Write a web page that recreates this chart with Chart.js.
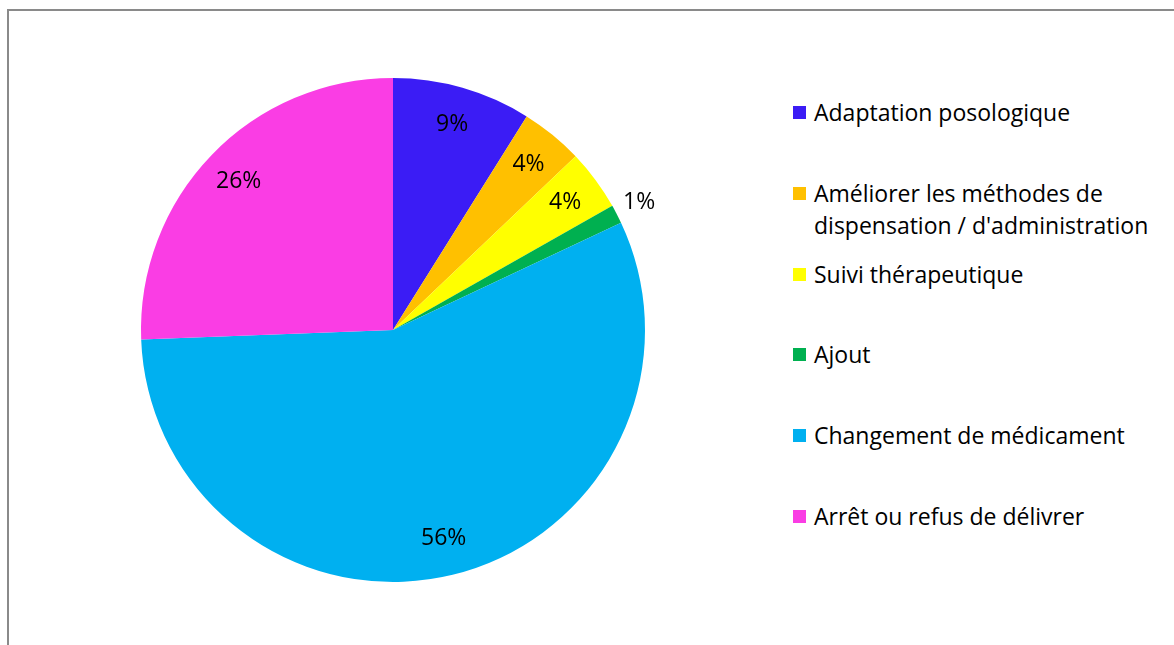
<!DOCTYPE html>
<html>
<head>
<meta charset="utf-8">
<script src="https://cdn.jsdelivr.net/npm/chart.js@4"></script>
<style>
  body { margin: 0; width: 1174px; height: 645px; overflow: hidden; background: #fff; font-family: "Open Sans", sans-serif; }
  #frame { position: absolute; left: 7px; top: 9px; width: 1200px; height: 700px; border-top: 2px solid #8a8a8a; border-left: 2px solid #8a8a8a; }
  #wrap { position: absolute; left: 0; top: 0; width: 786px; height: 645px; }
  #legend { position: absolute; left: 0; top: 0; }
  .item { position: absolute; left: 793px; white-space: nowrap; font-size: 23px; line-height: 32px; color: #000; }
  .item span.box { position: absolute; left: 0; top: 10px; width: 13px; height: 13px; }
  .item div.txt { margin-left: 21px; }
</style>
</head>
<body>
<div id="frame"></div>
<div id="wrap"><canvas id="pie"></canvas></div>
<div id="legend"></div>
<script>
const categories = [
  "Adaptation posologique",
  ["Améliorer les méthodes de", "dispensation / d'administration"],
  "Suivi thérapeutique",
  "Ajout",
  "Changement de médicament",
  "Arrêt ou refus de délivrer"
];
const percents = [8.9, 4.0, 3.9, 1.2, 56.4, 25.6];
const percentLabels = ["9%", "4%", "4%", "1%", "56%", "26%"];
const colors = ["#3b1cf5", "#ffc000", "#ffff00", "#00b050", "#00b0f0", "#fa3de4"];

// labels on the slices, small ones outside
const sliceLabels = {
  id: "sliceLabels",
  afterDatasetsDraw(chart) {
    const ctx = chart.ctx;
    const meta = chart.getDatasetMeta(0);
    ctx.save();
    ctx.font = "23px 'Open Sans', sans-serif";
    ctx.fillStyle = "#000";
    ctx.textAlign = "center";
    ctx.textBaseline = "middle";
    meta.data.forEach((arc, i) => {
      const p = arc.getProps(["x", "y", "startAngle", "endAngle", "outerRadius"], true);
      const mid = (p.startAngle + p.endAngle) / 2;
      const r = percents[i] < 2 ? p.outerRadius * 1.1 : p.outerRadius * 0.85;
      ctx.fillText(percentLabels[i], p.x + Math.cos(mid) * r, p.y + Math.sin(mid) * r);
    });
    ctx.restore();
  }
};

new Chart(document.querySelector("#pie"), {
  type: "pie",
  data: {
    labels: categories,
    datasets: [{
      data: percents,
      backgroundColor: colors,
      borderWidth: 0
    }]
  },
  options: {
    responsive: true,
    maintainAspectRatio: false,
    animation: false,
    layout: { padding: { top: 78, bottom: 63, left: 78, right: 78 } },
    plugins: {
      legend: { display: false },
      tooltip: { enabled: false }
    }
  },
  plugins: [sliceLabels]
});

// legend on the right
let legend = document.querySelector("#legend");
categories.forEach((cat, i) => {
  let lines = Array.isArray(cat) ? cat : [cat];
  let top = 96 + i * 80.8;
  legend.innerHTML += `
    <div class="item" style="top:${top}px">
      <span class="box" style="background:${colors[i]}"></span>
      <div class="txt">${lines.join("<br>")}</div>
    </div>`;
});
</script>
</body>
</html>
